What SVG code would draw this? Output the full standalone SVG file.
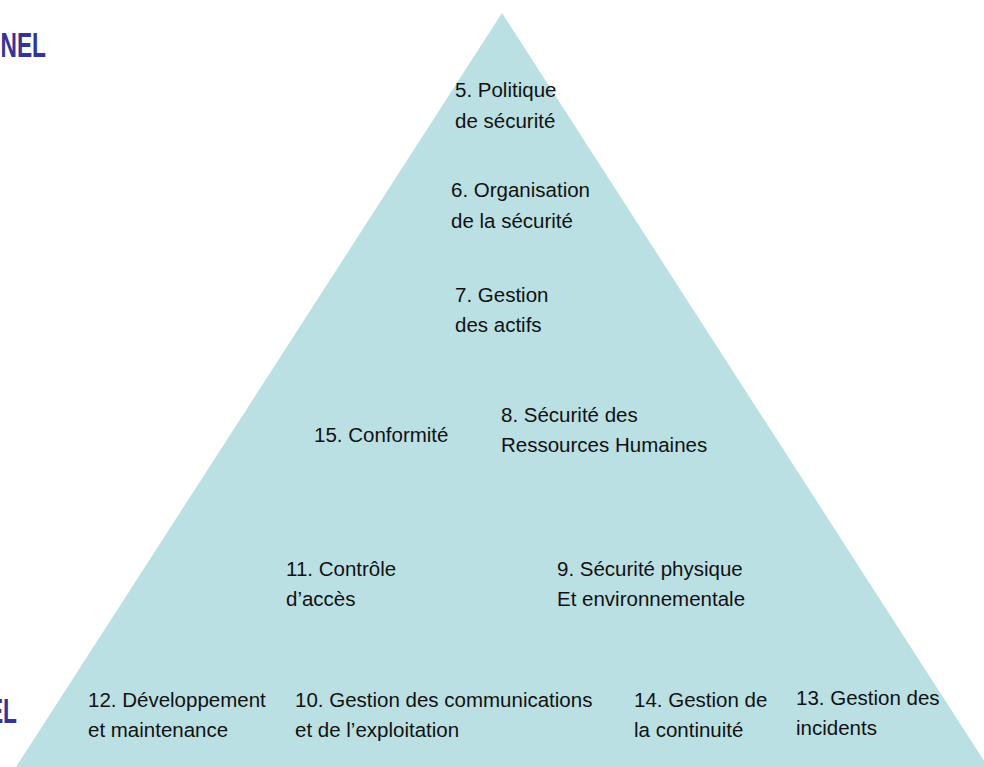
<svg xmlns="http://www.w3.org/2000/svg" width="984" height="767" viewBox="0 0 984 767">
<style>
.t{font-family:"Liberation Sans",Arial,sans-serif;font-size:20.5px;fill:#111;}
.b{font-family:"Liberation Sans",Arial,sans-serif;font-size:35px;font-weight:bold;fill:#333399;}
</style>
<rect width="984" height="767" fill="#ffffff"/>
<g id="pyramid"><polygon points="502,13 16,767 988,767" fill="#bae0e4"/></g>
<g id="side-labels">
<text class="b" transform="translate(46,57) scale(0.65,1)" text-anchor="end">NEL</text>
<text class="b" transform="translate(17,723) scale(0.65,1)" text-anchor="end">EL</text>
</g>
<g id="connectors"></g>
<g id="n5"><text class="t" x="455" y="97">5. Politique</text><text class="t" x="455" y="128">de sécurité</text></g>
<g id="n6"><text class="t" x="451" y="197">6. Organisation</text><text class="t" x="451" y="228">de la sécurité</text></g>
<g id="n7"><text class="t" x="455" y="302">7. Gestion</text><text class="t" x="455" y="332">des actifs</text></g>
<g id="n15"><text class="t" x="314" y="442">15. Conformité</text></g>
<g id="n8"><text class="t" x="501" y="422">8. Sécurité des</text><text class="t" x="501" y="452">Ressources Humaines</text></g>
<g id="n11"><text class="t" x="286" y="576">11. Contrôle</text><text class="t" x="286" y="606">d’accès</text></g>
<g id="n9"><text class="t" x="557" y="576">9. Sécurité physique</text><text class="t" x="557" y="606">Et environnementale</text></g>
<g id="n12"><text class="t" x="88" y="707">12. Développement</text><text class="t" x="88" y="737">et maintenance</text></g>
<g id="n10"><text class="t" x="295" y="707">10. Gestion des communications</text><text class="t" x="295" y="737">et de l’exploitation</text></g>
<g id="n14"><text class="t" x="634" y="707">14. Gestion de</text><text class="t" x="634" y="737">la continuité</text></g>
<g id="n13"><text class="t" x="796" y="705">13. Gestion des</text><text class="t" x="796" y="735">incidents</text></g>
</svg>
